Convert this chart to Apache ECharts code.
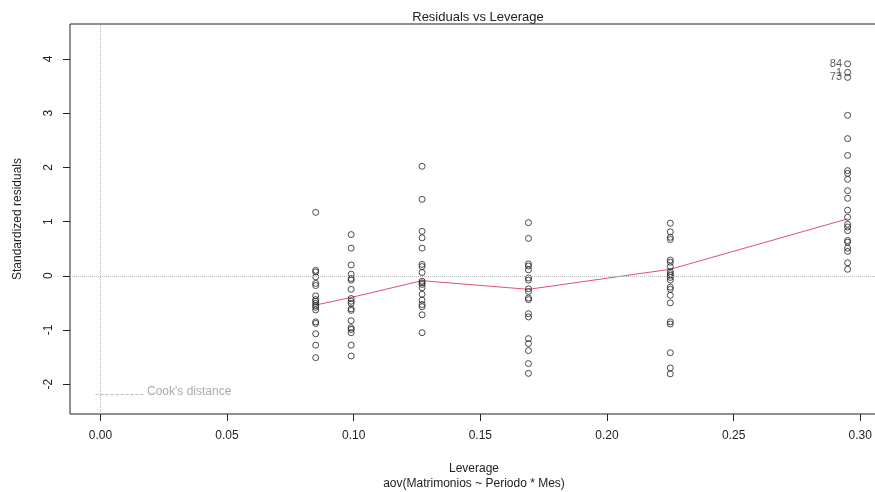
<!DOCTYPE html>
<html>
<head>
<meta charset="UTF-8">
<title>Residuals vs Leverage</title>
<script src="https://cdn.jsdelivr.net/npm/echarts@6/dist/echarts.min.js"></script>
<style>
  html, body { margin: 0; padding: 0; background: #fff; overflow: hidden; }
  #main { width: 875px; height: 492px; }
</style>
</head>
<body>
<div id="main"></div>
<script>
// leverage of each group of observations
var leverage = [0.085, 0.099, 0.127, 0.169, 0.225, 0.295];

// standardized residuals for each leverage group
var res1 = [1.17, 0.10, 0.07, -0.02, -0.14, -0.18, -0.37, -0.44, -0.47, -0.51, -0.55, -0.58, -0.63, -0.85, -0.88, -1.07, -1.28, -1.51];
var res2 = [0.76, 0.51, 0.20, 0.03, -0.05, -0.08, -0.25, -0.42, -0.47, -0.51, -0.61, -0.64, -0.83, -0.96, -0.99, -1.05, -1.28, -1.48];
var res3 = [2.02, 1.41, 0.82, 0.70, 0.51, 0.21, 0.17, 0.06, -0.10, -0.13, -0.16, -0.22, -0.34, -0.45, -0.53, -0.57, -0.72, -1.05];
var res4 = [0.98, 0.69, 0.22, 0.18, 0.11, -0.04, -0.08, -0.24, -0.29, -0.41, -0.44, -0.70, -0.76, -1.16, -1.25, -1.38, -1.62, -1.80];
var res5 = [0.97, 0.81, 0.71, 0.67, 0.29, 0.25, 0.17, 0.08, 0.04, 0.01, -0.03, -0.08, -0.21, -0.25, -0.36, -0.50, -0.85, -0.89, -1.42, -1.70, -1.81];
var res6 = [3.91, 3.75, 3.66, 2.96, 2.53, 2.22, 1.94, 1.89, 1.78, 1.57, 1.43, 1.21, 1.08, 0.95, 0.90, 0.83, 0.65, 0.62, 0.51, 0.45, 0.24, 0.12];
var residuals = [res1, res2, res3, res4, res5, res6];

// labels of the three most extreme points (first three of res6)
var extremeLabels = ['84', '1', '73'];

// red smoother, one value per leverage group
var smoothY = [-0.54, -0.40, -0.09, -0.25, 0.12, 1.05];

var xTicks = [0, 0.05, 0.10, 0.15, 0.20, 0.25, 0.30];
var yTicks = [-2, -1, 0, 1, 2, 3, 4];

var font = 'Liberation Sans, Arial, sans-serif';

var points = [];
residuals.forEach(function (arr, g) {
  arr.forEach(function (v, i) {
    var item = { value: [leverage[g], v] };
    if (g === 5 && i < extremeLabels.length) {
      item.label = {
        show: true, position: 'left', distance: 2,
        formatter: extremeLabels[i],
        fontSize: 11, color: '#333', fontFamily: font
      };
    }
    points.push(item);
  });
});

var smoothData = leverage.map(function (x, i) { return [x, smoothY[i]]; });

var chart = echarts.init(document.getElementById('main'));
chart.setOption({
  animation: false,
  title: {
    text: 'Residuals vs Leverage',
    left: 473, top: 6, textAlign: 'center',
    textStyle: { fontSize: 13, fontWeight: 'normal', color: '#222', fontFamily: font }
  },
  grid: {
    left: 70, top: 24, right: -3, bottom: 78,
    outerBoundsMode: 'none', containLabel: false,
    show: true, borderColor: '#222', borderWidth: 1, backgroundColor: 'transparent'
  },
  xAxis: {
    type: 'value', min: -0.012, max: 0.307,
    splitLine: { show: false },
    axisLine: { show: false, onZero: false },
    axisTick: { show: true, length: 7, customValues: xTicks, lineStyle: { color: '#222' } },
    axisLabel: {
      customValues: xTicks, margin: 16, fontSize: 12, color: '#222', fontFamily: font,
      formatter: function (v) { return v.toFixed(2); }
    },
    name: 'Leverage\naov(Matrimonios ~ Periodo * Mes)',
    nameLocation: 'middle', nameGap: 47,
    nameTextStyle: { fontSize: 12, color: '#222', lineHeight: 15, fontFamily: font }
  },
  yAxis: {
    type: 'value', min: -2.55, max: 4.645,
    splitLine: { show: false },
    axisLine: { show: false, onZero: false },
    axisTick: { show: true, length: 7, customValues: yTicks, lineStyle: { color: '#222' } },
    axisLabel: {
      customValues: yTicks, rotate: 90, margin: 15, fontSize: 12, color: '#222', fontFamily: font
    },
    name: 'Standardized residuals',
    nameLocation: 'middle', nameRotate: 90, nameGap: 46,
    nameTextStyle: { fontSize: 12, color: '#222', fontFamily: font }
  },
  graphic: [
    {
      type: 'line', left: 93, top: 392,
      shape: { x1: 0, y1: 0, x2: 49, y2: 0 },
      style: { stroke: '#bbb', lineWidth: 1, lineDash: [3, 2] }
    },
    {
      type: 'text', left: 147, top: 386,
      style: { text: "Cook's distance", fill: '#aaa', fontSize: 12, fontFamily: font }
    }
  ],
  series: [
    {
      type: 'scatter',
      data: points,
      symbol: 'circle',
      symbolSize: 6,
      itemStyle: { color: 'transparent', borderColor: '#222', borderWidth: 1 },
      markLine: {
        silent: true, symbol: 'none', label: { show: false },
        lineStyle: { color: '#bbb', type: 'dotted', width: 1 },
        data: [{ yAxis: 0 }, { xAxis: 0 }]
      },
      z: 3
    },
    {
      type: 'line',
      data: smoothData,
      showSymbol: false,
      lineStyle: { color: '#DF536B', width: 1 },
      z: 2
    }
  ]
});
</script>
</body>
</html>
